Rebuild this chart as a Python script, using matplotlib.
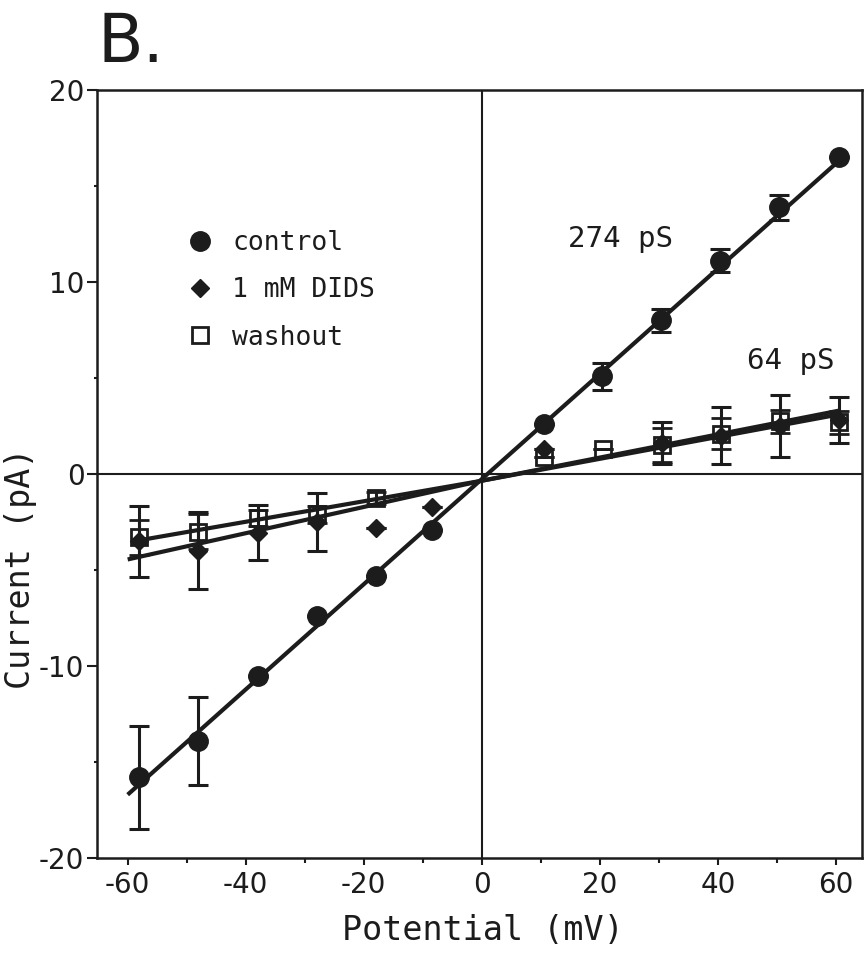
import numpy as np
import matplotlib
matplotlib.use("Agg")
import matplotlib.pyplot as plt
from matplotlib.ticker import MultipleLocator

# ------------------------------------------------------------------
# data (mV, pA)
# ------------------------------------------------------------------
ctrl_x = [-58, -48, -38, -28, -18, -8.5, 10.5, 20.3, 30.3, 40.3, 50.3, 60.5]
ctrl_y = [-15.8, -13.9, -10.5, -7.4, -5.3, -2.9, 2.6, 5.1, 8.0, 11.1, 13.9, 16.5]
ctrl_err = [2.7, 2.3, 0, 0, 0, 0, 0, 0.7, 0.6, 0.6, 0.65, 0]

dids_x = [-58, -48, -38, -28, -18, -8.5, 10.5, 30.5, 40.5, 50.5, 60.5]
dids_y = [-3.5, -4.0, -3.05, -2.5, -2.8, -1.7, 1.3, 1.6, 2.0, 2.5, 2.8]
dids_err = [1.85, 2.0, 1.45, 1.5, 0, 0, 0, 1.1, 1.5, 1.6, 1.2]

wash_x = [-58, -48, -38, -28, -18, 10.5, 20.5, 30.5, 40.5, 50.5, 60.5]
wash_y = [-3.3, -3.0, -2.3, -2.1, -1.25, 0.9, 1.3, 1.5, 2.1, 2.75, 2.7]
wash_err = [0.9, 0.9, 0.4, 0.45, 0.3, 0, 0, 0.9, 0.8, 0.6, 0.6]

# fitted lines (end points)
ctrl_fit_x = [-60, 61]
ctrl_fit_y = [-16.7, 16.45]
dids_fit_x = [-60, 0, 60.5]
dids_fit_y = [-4.45, -0.35, 3.3]
wash_fit_x = [-58, 0, 60.5]
wash_fit_y = [-3.45, -0.35, 3.1]

labels = ["control", "1 mM DIDS", "washout"]
conductances = ["274 pS", "64 pS"]

INK = "#1c1c1c"
MONO = "DejaVu Sans Mono"
plt.rcParams["axes.unicode_minus"] = False

# ------------------------------------------------------------------
fig = plt.figure(figsize=(8.65, 9.57), dpi=100)
ax = fig.add_axes([0.1121, 0.1034, 0.8844, 0.8026])

ax.axhline(0, color=INK, lw=1.5, zorder=1)
ax.axvline(0, color=INK, lw=1.5, zorder=1)

ax.plot(ctrl_fit_x, ctrl_fit_y, color=INK, lw=3, zorder=2, solid_capstyle="butt")
ax.plot(dids_fit_x, dids_fit_y, color=INK, lw=3, zorder=2, solid_capstyle="butt")
ax.plot(wash_fit_x, wash_fit_y, color=INK, lw=3, zorder=2, solid_capstyle="butt")

eb_kw = dict(ecolor=INK, elinewidth=2.2, capsize=7, capthick=2.2, linestyle="none")
c = ax.errorbar(ctrl_x, ctrl_y, yerr=ctrl_err, marker="o", ms=14,
                mfc=INK, mec=INK, zorder=4, **eb_kw)
d = ax.errorbar(dids_x, dids_y, yerr=dids_err, marker="D", ms=9,
                mfc=INK, mec=INK, zorder=4, **eb_kw)
w = ax.errorbar(wash_x, wash_y, yerr=wash_err, marker="s", ms=12,
                mfc="none", mec=INK, mew=2, zorder=5, **eb_kw)

ax.set_xlim(-65.2, 64.4)
ax.set_ylim(-20, 20)
ax.xaxis.set_major_locator(MultipleLocator(20))
ax.xaxis.set_minor_locator(MultipleLocator(10))
ax.yaxis.set_major_locator(MultipleLocator(10))
ax.yaxis.set_minor_locator(MultipleLocator(5))
ax.tick_params(axis="x", which="major", direction="out", length=5, width=1.5,
               color=INK, labelsize=20, labelcolor=INK, pad=4)
ax.tick_params(axis="x", which="minor", direction="out", length=3.5, width=1.5, color=INK)
ax.tick_params(axis="y", which="major", direction="out", length=7, width=1.5,
               color=INK, labelsize=20, labelcolor=INK, pad=2)
ax.tick_params(axis="y", which="minor", direction="out", length=2.5, width=1.5, color=INK)
for sp in ax.spines.values():
    sp.set_linewidth(1.8)
    sp.set_color(INK)

leg = ax.legend([c[0], d[0], w[0]], labels, loc="upper left",
                bbox_to_anchor=(0.1004, 0.835), frameon=False, borderpad=0,
                handlelength=1.0, handletextpad=0.71, labelspacing=0.81,
                prop={"family": MONO, "size": 19}, numpoints=1)
for t in leg.get_texts():
    t.set_color(INK)

ax.text(14.6, 12.24, conductances[0], fontsize=21, family=MONO, color=INK,
        ha="left", va="center")
ax.text(44.9, 5.9, conductances[1], fontsize=21, family=MONO, color=INK,
        ha="left", va="center")

fig.text(483 / 865, 1 - 931 / 957, "Potential (mV)", fontsize=24, family=MONO,
         color=INK, ha="center", va="center")
fig.text(21 / 865, 1 - 568 / 957, "Current (pA)", fontsize=24, family=MONO,
         color=INK, ha="center", va="center", rotation=90)
fig.text(97 / 865, 1 - 62 / 957, "B.", fontsize=48, color=INK,
         ha="left", va="baseline")

fig.savefig("out.png", dpi=100)
